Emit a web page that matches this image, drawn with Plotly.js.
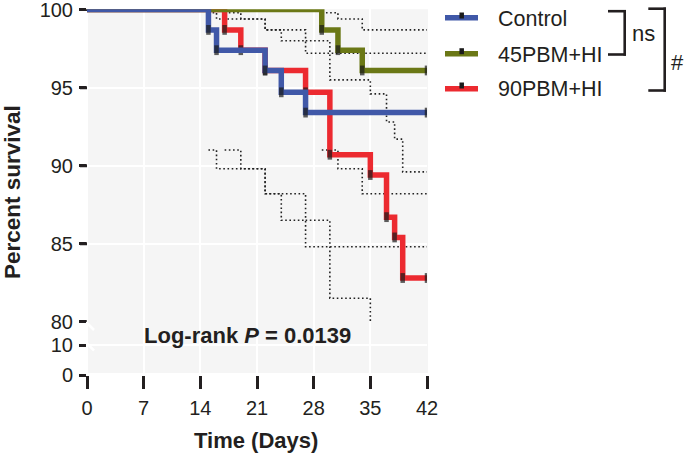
<!DOCTYPE html>
<html>
<head>
<meta charset="utf-8">
<script src="https://cdn.plot.ly/plotly-3.0.1.min.js"></script>
<style>
  html, body { margin: 0; padding: 0; background: #ffffff; }
  #chart { width: 685px; height: 455px; }
</style>
</head>
<body>
<div id="chart"></div>
<script>
// ---------------- data ----------------
const groupNames = ['Control', '45PBM+HI', '90PBM+HI'];

// Kaplan-Meier curves (day, percent survival)
const controlDays = [0, 15, 16, 22, 24, 27, 42];
const controlSurv = [100, 98.7, 97.4, 96.1, 94.7, 93.4, 93.4];

const pbm45Days = [0, 29, 31, 34, 42];
const pbm45Surv = [100, 98.7, 97.4, 96.1, 96.1];

const pbm90Days = [0, 17, 19, 22, 27, 30, 35, 37, 38, 39, 42];
const pbm90Surv = [100, 98.7, 97.4, 96.1, 94.7, 90.7, 89.4, 86.7, 85.4, 82.8, 82.8];

// 95% confidence bands (dotted)
const controlCIDays = [15, 16, 22, 24, 27, 42];
const controlUpper  = [99.8, 99.4, 98.7, 98.0, 97.2, 97.2];
const controlLower  = [91.0, 89.8, 88.2, 86.5, 84.8, 84.8];

const pbm45CIDays = [29, 31, 34, 42];
const pbm45Upper  = [99.8, 99.4, 98.7, 98.7];
const pbm45Lower  = [91.0, 89.8, 88.2, 88.2];

const pbm90CIDays = [17, 19, 22, 27, 30, 35, 37, 38, 39, 42];
const pbm90Upper  = [99.8, 99.4, 98.7, 98.0, 95.5, 94.6, 92.8, 91.7, 89.6, 89.6];
const pbm90Lower  = [91.0, 89.8, 88.2, 86.5, 81.5, 79.4, 76.6, 75.2, 72.3, 72.3];

const xTicks = [0, 7, 14, 21, 28, 35, 42];
const yTicksUpper = [80, 85, 90, 95, 100];
const yTicksLower = [0, 10];

const pText = 'Log-rank <i>P</i> = 0.0139';
const compare1 = 'ns';
const compare2 = '#';

// ---------------- styling ----------------
const W = 685, H = 455;
const fx = px => px / W;
const fy = py => 1 - py / H;
const colors = ['#4058a8', '#6b7816', '#ec2a30'];
const ink = '#231f20';
const FONT = '"Liberation Sans", Arial, Helvetica, sans-serif';

function curve(days, surv, color, name) {
  const sizes = days.map((d, i) => (i === 0 ? 0 : 7));
  return {
    type: 'scatter', mode: 'lines+markers', name: name,
    x: days, y: surv, xaxis: 'x', yaxis: 'y2',
    line: { shape: 'hv', color: color, width: 5.5 },
    marker: { symbol: 'line-ns', size: sizes, color: '#1b1b1b',
              line: { color: '#1b1b1b', width: 4.5 } },
    showlegend: false
  };
}
function band(days, vals) {
  return {
    type: 'scatter', mode: 'lines', x: days, y: vals, xaxis: 'x', yaxis: 'y2',
    line: { shape: 'hv', color: '#222222', width: 1.6, dash: '1.6px,2.6px' },
    showlegend: false
  };
}

const traces = [
  // empty trace so that the lower (0-10) segment of the broken axis exists as a subplot
  { type: 'scatter', mode: 'lines', x: [], y: [], xaxis: 'x', yaxis: 'y', showlegend: false },
  band(controlCIDays, controlUpper), band(controlCIDays, controlLower),
  band(pbm45CIDays, pbm45Upper), band(pbm45CIDays, pbm45Lower),
  band(pbm90CIDays, pbm90Upper), band(pbm90CIDays, pbm90Lower),
  curve(pbm90Days, pbm90Surv, colors[2], groupNames[2]),
  curve(pbm45Days, pbm45Surv, colors[1], groupNames[1]),
  curve(controlDays, controlSurv, colors[0], groupNames[0])
];

// ---------------- layout ----------------
const tickCommon = {
  ticks: 'outside', tickwidth: 3, tickcolor: ink,
  showline: false, zeroline: false,
  showgrid: true, gridcolor: '#ffffff', gridwidth: 2,
  tickfont: { family: FONT, size: 20, color: ink },
  automargin: false, fixedrange: true, ticklabeloverflow: 'allow'
};

function seg(x0, y0, x1, y1, color, width, layer) {
  return { type: 'line', xref: 'paper', yref: 'paper', x0: fx(x0), y0: fy(y0), x1: fx(x1), y1: fy(y1),
           line: { color: color, width: width }, layer: layer || 'above' };
}

const shapes = [
  // grey plotting background
  { type: 'rect', xref: 'paper', yref: 'paper', x0: fx(88), x1: fx(428), y0: fy(373), y1: fy(9.3),
    fillcolor: '#f5f5f5', line: { width: 0 }, layer: 'below' },
  // axis break marks
  seg(87.5, 323.5, 94, 330, '#ffffff', 2.5),
  seg(87.5, 344, 94, 350.5, '#ffffff', 2.5),
  // comparison brackets
  seg(608, 11.2, 626, 11.2, ink, 2.6), seg(624.7, 10, 624.7, 55.7, ink, 2.6), seg(608, 54.5, 626, 54.5, ink, 2.6),
  seg(648.3, 8.7, 666, 8.7, ink, 2.6), seg(664.7, 7.5, 664.7, 91.7, ink, 2.6), seg(648.3, 90.5, 666, 90.5, ink, 2.6)
];

// tick marks of the upper axis segment, placed through the y2 scale at the tick values
yTicksUpper.forEach(v => {
  shapes.push({ type: 'line', xref: 'paper', yref: 'y2', x0: fx(80), x1: fx(87), y0: v, y1: v,
    line: { color: ink, width: 3 }, layer: 'above' });
});

// legend samples
const legendY = [17.8, 53.7, 88.7];
const legendMarkY = [15.5, 51.2, 85.5];
legendY.forEach((ly, i) => {
  shapes.push(seg(445, ly, 478, ly, colors[i], 5.5));
  shapes.push(seg(461.7, legendMarkY[i] - 3, 461.7, legendMarkY[i] + 3, '#1b1b1b', 4.5));
});

const annotations = [
  { text: '<b>Percent survival</b>', x: fx(12), y: fy(192), xref: 'paper', yref: 'paper',
    textangle: -90, showarrow: false, xanchor: 'center', yanchor: 'middle',
    font: { family: FONT, size: 22.5, color: ink } },
  { text: '<b>Time (Days)</b>', x: fx(256), y: fy(440), xref: 'paper', yref: 'paper',
    showarrow: false, xanchor: 'center', yanchor: 'middle',
    font: { family: FONT, size: 22, color: ink } },
  { text: '<b>' + pText + '</b>', x: fx(247), y: fy(335), xref: 'paper', yref: 'paper',
    showarrow: false, xanchor: 'center', yanchor: 'middle',
    font: { family: FONT, size: 22, color: ink } },
  { text: compare1, x: fx(643.5), y: fy(34), xref: 'paper', yref: 'paper',
    showarrow: false, xanchor: 'center', yanchor: 'middle',
    font: { family: FONT, size: 22, color: ink } },
  { text: compare2, x: fx(677), y: fy(62.5), xref: 'paper', yref: 'paper',
    showarrow: false, xanchor: 'center', yanchor: 'middle',
    font: { family: FONT, size: 22, color: ink } }
];
const legendTextY = [19.5, 55, 89];
groupNames.forEach((g, i) => {
  annotations.push({ text: g, x: fx(496), y: fy(legendTextY[i]), xref: 'paper', yref: 'paper',
    showarrow: false, xanchor: 'left', yanchor: 'middle',
    font: { family: FONT, size: 21.5, color: ink } });
});

const layout = {
  width: W, height: H,
  margin: { l: 0, r: 0, t: 0, b: 0, pad: 0 },
  paper_bgcolor: '#ffffff', plot_bgcolor: 'rgba(0,0,0,0)',
  showlegend: false,
  font: { family: FONT, color: ink },
  xaxis: Object.assign({}, tickCommon, {
    domain: [fx(87), fx(427)], range: [0, 42], anchor: 'y',
    tickvals: xTicks, ticktext: xTicks.map(String), ticklen: 13, ticklabelstandoff: 2
  }),
  yaxis: Object.assign({}, tickCommon, {
    domain: [fy(375), fy(321.7)], range: [0, 17.77], anchor: 'x',
    tickvals: yTicksLower, ticktext: yTicksLower.map(String), ticklen: 7, ticklabelstandoff: 2
  }),
  yaxis2: Object.assign({}, tickCommon, {
    domain: [fy(321.7), fy(9.3)], range: [80, 100.02], anchor: 'x',
    tickvals: yTicksUpper, ticktext: yTicksUpper.map(String), ticklen: 7, ticklabelstandoff: 2
  }),
  shapes: shapes,
  annotations: annotations
};

Plotly.newPlot('chart', traces, layout, { staticPlot: true });
</script>
</body>
</html>
